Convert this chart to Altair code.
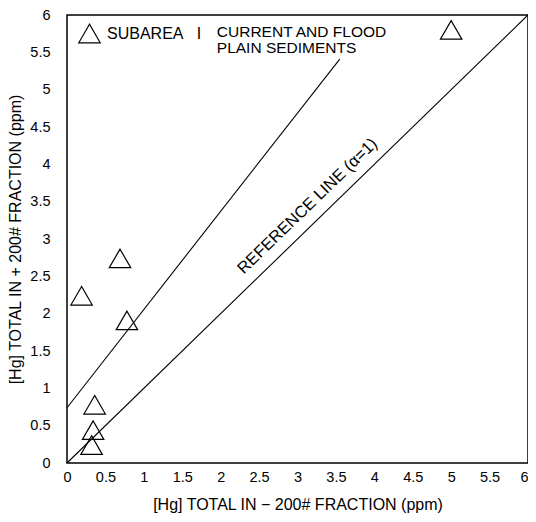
import altair as alt
import pandas as pd

# data
pt_x = [0.19, 0.69, 0.78, 0.36, 0.34, 0.32, 5.0]
pt_y = [2.24, 2.74, 1.91, 0.78, 0.44, 0.24, 5.8]
group = ["SUBAREA\u00a0\u00a0\u00a0I"] * len(pt_x)

ref_x = [0, 6]
ref_y = [0, 6]
cur_x = [0, 3.55]
cur_y = [0.74, 5.41]

ticks = [0, 0.5, 1, 1.5, 2, 2.5, 3, 3.5, 4, 4.5, 5, 5.5, 6]

lab_cur_x = [1.95, 1.95]
lab_cur_y = [5.77, 5.56]
lab_cur_t = ["CURRENT AND FLOOD", "PLAIN SEDIMENTS"]
lab_ref_x = [3.13]
lab_ref_y = [3.44]
lab_ref_t = ["REFERENCE LINE (\u03b1=1)"]

FONT = "Liberation Sans"

pts = pd.DataFrame({"x": pt_x, "y": pt_y, "g": group})
ref = pd.DataFrame({"x": ref_x, "y": ref_y})
cur = pd.DataFrame({"x": cur_x, "y": cur_y})
lc = pd.DataFrame({"x": lab_cur_x, "y": lab_cur_y, "t": lab_cur_t})
lr = pd.DataFrame({"x": lab_ref_x, "y": lab_ref_y, "t": lab_ref_t})

xs = alt.Scale(domain=[0, 6], nice=False, zero=False)
ys = alt.Scale(domain=[0, 6], nice=False, zero=False)

xax = alt.Axis(values=ticks, format="~g", grid=False, ticks=False, domain=False, labelFont=FONT,
               labelFontSize=14.5, labelColor="black", labelPadding=7, labelFlush=False,
               labelAlign={"condition": {"test": "datum.value >= 6", "value": "right"}, "value": "center"},
               title="[Hg] TOTAL IN \u2212 200# FRACTION (ppm)", titleFont=FONT,
               titleFontSize=16, titleFontWeight="normal", titleColor="black", titlePadding=13)
yax = alt.Axis(values=ticks, format="~g", grid=False, ticks=False, domain=False, labelFont=FONT,
               labelFontSize=14.5, labelColor="black", labelPadding=17, labelFlush=False,
               title="[Hg] TOTAL IN + 200# FRACTION (ppm)", titleFont=FONT,
               titleFontSize=16, titleFontWeight="normal", titleColor="black", titlePadding=6)

X = alt.X("x:Q", scale=xs, axis=xax)
Y = alt.Y("y:Q", scale=ys, axis=yax)

points = alt.Chart(pts).mark_point(filled=False, color="black", strokeWidth=1.2, size=460, opacity=1).encode(
    x=X, y=Y,
    shape=alt.Shape("g:N", scale=alt.Scale(range=["triangle-up"]),
                    legend=alt.Legend(title=None, orient="none", legendX=11, legendY=7,
                                      labelFont=FONT, labelFontSize=16, labelColor="black",
                                      symbolSize=460, symbolStrokeColor="black",
                                      symbolStrokeWidth=1.2, symbolFillColor="transparent",
                                      labelOffset=6)),
)

ref_line = alt.Chart(ref).mark_line(color="black", strokeWidth=1.1).encode(x=X, y=Y)
cur_line = alt.Chart(cur).mark_line(color="black", strokeWidth=1.1).encode(x=X, y=Y)

cur_text = alt.Chart(lc).mark_text(align="left", baseline="middle", font=FONT, fontSize=15.5,
                                   color="black").encode(x=X, y=Y, text="t:N")
ref_text = alt.Chart(lr).mark_text(align="center", baseline="middle", font=FONT, fontSize=16.5,
                                   color="black", angle=316).encode(x=X, y=Y, text="t:N")

chart = alt.layer(ref_line, cur_line, points, cur_text, ref_text).properties(
    width=461, height=448,
    autosize=alt.AutoSizeParams(type="none"),
    padding={"left": 59, "top": 7, "right": 0, "bottom": 51},
    background="white",
).configure_view(stroke="black", strokeWidth=1.5)

chart.save("out.html", embed_options={"renderer": "svg", "actions": False})
